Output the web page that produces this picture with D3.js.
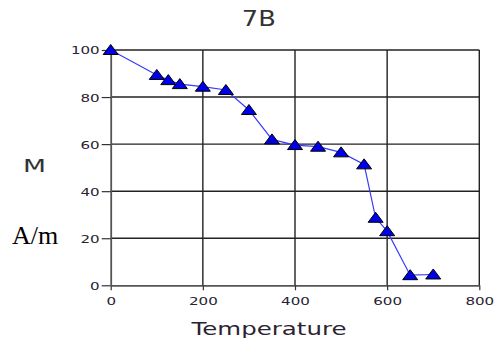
<!DOCTYPE html>
<html><head><meta charset="utf-8">
<script src="https://cdn.jsdelivr.net/npm/d3@7"></script>
<style>html,body{margin:0;padding:0;background:#fff;}svg{display:block;}</style>
</head><body>
<svg id="c" width="494" height="338"></svg>
<script>
const temperature = [0, 100, 125, 150, 200, 250, 300, 350, 400, 450, 500, 550, 575, 600, 650, 700];
const magnetization = [100, 89.4, 87.2, 85.5, 84.4, 83, 74.5, 62, 59.6, 58.9, 56.5, 51.4, 28.7, 23, 4.3, 4.6];
const xTicks = [0, 200, 400, 600, 800];
const yTicks = [0, 20, 40, 60, 80, 100];
const title = "7B";
const xTitle = "Temperature";
const yTitle1 = "M";
const yTitle2 = "A/m";

const svg = d3.select("#c");
const x = d3.scaleLinear().domain([0, 800]).range([110.7, 479.3]);
const y = d3.scaleLinear().domain([0, 100]).range([285.3, 50]);

// gridlines
svg.append("g").selectAll("line").data(xTicks.filter(d => d > 0)).join("line")
  .attr("x1", d => x(d)).attr("x2", d => x(d)).attr("y1", y(0)).attr("y2", y(100))
  .attr("stroke", "#222").attr("stroke-width", 1.4);
svg.append("g").selectAll("line").data(yTicks.filter(d => d > 0)).join("line")
  .attr("x1", x(0)).attr("x2", x(800)).attr("y1", d => y(d)).attr("y2", d => y(d))
  .attr("stroke", "#222").attr("stroke-width", 1.4);

// axes
const xAxis = svg.append("g").attr("transform", `translate(0,${y(0)})`)
  .call(d3.axisBottom(x).tickValues(xTicks).tickSize(5).tickPadding(4).tickSizeOuter(0));
const yAxis = svg.append("g").attr("transform", `translate(${x(0)},0)`)
  .call(d3.axisLeft(y).tickValues(yTicks).tickSize(9).tickPadding(2).tickSizeOuter(0));
[xAxis, yAxis].forEach(g => {
  g.select(".domain").attr("stroke", "#555").attr("stroke-width", 1.8);
  g.selectAll(".tick line").attr("stroke", "#333").attr("stroke-width", 1.2);
  g.selectAll(".tick text").attr("fill", "#2a2233")
    .attr("font-family", "DejaVu Sans").attr("font-size", 11)
    .attr("lengthAdjust", "spacingAndGlyphs")
    .attr("textLength", function() { return this.textContent.length * 9.6; });
});
yAxis.selectAll(".tick text").attr("dy", "0.36em");
xAxis.selectAll(".tick text").attr("dy", "0.95em");

// line
const line = d3.line().x((d, i) => x(temperature[i])).y(d => y(d));
svg.append("path").datum(magnetization).attr("d", line)
  .attr("fill", "none").attr("stroke", "#3a3aff").attr("stroke-width", 1.2);

// markers
const tri = "M0,-5.5 L7.5,4.5 L-7.5,4.5 Z";
svg.append("g").selectAll("path").data(magnetization).join("path")
  .attr("d", tri)
  .attr("transform", (d, i) => `translate(${x(temperature[i])},${y(d)})`)
  .attr("fill", "#0000e6").attr("stroke", "#000").attr("stroke-width", 1);

// titles
svg.append("text").attr("x", 258.8).attr("y", 26).attr("text-anchor", "middle")
  .attr("font-family", "DejaVu Sans").attr("font-size", 22).attr("fill", "#333")
  .attr("textLength", 34).attr("lengthAdjust", "spacingAndGlyphs").text(title);
svg.append("text").attr("x", 269).attr("y", 335).attr("text-anchor", "middle")
  .attr("font-family", "DejaVu Sans").attr("font-size", 18).attr("fill", "#2b2430")
  .attr("textLength", 155).attr("lengthAdjust", "spacingAndGlyphs").text(xTitle);
svg.append("text").attr("x", 34.5).attr("y", 171.7).attr("text-anchor", "middle")
  .attr("font-family", "DejaVu Sans").attr("font-size", 17.5).attr("fill", "#333")
  .attr("textLength", 23).attr("lengthAdjust", "spacingAndGlyphs").text(yTitle1);
svg.append("text").attr("x", 12).attr("y", 244).attr("text-anchor", "start")
  .attr("font-family", "Liberation Serif").attr("font-size", 26).attr("fill", "#000")
  .text(yTitle2);
</script>
</body></html>
